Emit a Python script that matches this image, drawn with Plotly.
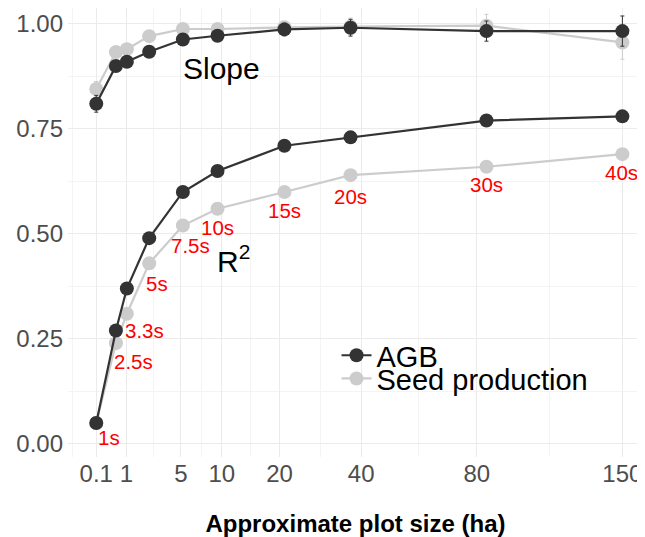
import numpy as np
import plotly.graph_objects as go

# ---------------- data ----------------
plot_size_ha = [0.1, 0.58, 1.02, 2.3, 5.2, 9.4, 21.0, 37.0, 84.0, 150.0]
resolution_labels = ["1s", "2.5s", "3.3s", "5s", "7.5s", "10s", "15s", "20s", "30s", "40s"]

r2_agb = [0.05, 0.27, 0.37, 0.49, 0.60, 0.65, 0.71, 0.73, 0.77, 0.78]
r2_seed = [0.05, 0.24, 0.31, 0.43, 0.52, 0.56, 0.60, 0.64, 0.66, 0.69]

slope_agb = [0.81, 0.90, 0.91, 0.934, 0.963, 0.972, 0.987, 0.991, 0.983, 0.983]
slope_agb_err = [0.02, 0.01, 0.01, 0.01, 0.01, 0.012, 0.015, 0.02, 0.024, 0.036]
slope_seed = [0.845, 0.933, 0.94, 0.971, 0.988, 0.988, 0.992, 0.994, 0.996, 0.956]
slope_seed_err = [0.018, 0.01, 0.01, 0.01, 0.012, 0.012, 0.014, 0.02, 0.027, 0.04]

x_tick_values = [0.1, 1, 5, 10, 20, 40, 80, 150]
x_tick_labels = ["0.1", "1", "5", "10", "20", "40", "80", "150"]
y_tick_values = [0.0, 0.25, 0.5, 0.75, 1.0]
y_tick_labels = ["0.00", "0.25", "0.50", "0.75", "1.00"]

# ---------------- styling / layout ----------------
DARK = "#333333"
LIGHT = "#CCCCCC"
FONT = "Liberation Sans, Arial, sans-serif"
label_dx = [13, 18, 18, 8, 8, 0, 0, 0, 0, -1]
label_dy = [15, 18, 17, 20, 20, 19, 19, 21, 18, 18]

# sqrt-transformed x axis
xs = np.sqrt(plot_size_ha)
tick_pos = np.sqrt(x_tick_values)
minor_x = [-0.234] + list((tick_pos[1:-1] + tick_pos[2:]) / 2)
minor_y = [0.125, 0.375, 0.625, 0.875]

fig = go.Figure()


def add_series(y, color, name, err=None, legend=None, show=False):
    fig.add_trace(go.Scatter(
        x=xs, y=y, mode="lines+markers", name=name,
        line=dict(color=color, width=2.2),
        marker=dict(color=color, size=14),
        error_y=(dict(type="data", array=err, visible=True, color=color,
                      thickness=1, width=2) if err is not None else None),
        showlegend=show, legend=legend, hoverinfo="skip", cliponaxis=False,
    ))


# seed first (drawn underneath), then AGB
add_series(slope_seed, LIGHT, "Seed production", err=slope_seed_err)
add_series(r2_seed, LIGHT, "Seed production", legend="legend2", show=True)
add_series(slope_agb, DARK, "AGB", err=slope_agb_err)
add_series(r2_agb, DARK, "AGB", legend="legend", show=True)

annotations = []
for xv, yv, lab, dx, dy in zip(xs, r2_seed, resolution_labels, label_dx, label_dy):
    annotations.append(dict(
        x=xv, y=yv, text=lab, showarrow=False, xanchor="center", yanchor="middle",
        xshift=dx, yshift=-dy, font=dict(family=FONT, size=20.5, color="red")))

annotations.append(dict(x=np.sqrt(10), y=0.895, text="Slope", showarrow=False,
                        xanchor="center", yanchor="middle",
                        font=dict(family=FONT, size=30, color="black")))
annotations.append(dict(x=3.435, y=0.44, text="R<sup>2</sup>", showarrow=False,
                        xanchor="center", yanchor="middle",
                        font=dict(family=FONT, size=30, color="black")))

legend_common = dict(xanchor="left", yanchor="middle", bgcolor="rgba(0,0,0,0)",
                     borderwidth=0, font=dict(family=FONT, size=29, color="black"),
                     itemwidth=30, tracegroupgap=0)

# the page body has an 8px default margin, so the figure is 8px smaller
fig.update_layout(
    width=637, height=529,
    margin=dict(l=60, r=2, t=0, b=80, autoexpand=False),
    paper_bgcolor="white", plot_bgcolor="white",
    font=dict(family=FONT),
    annotations=annotations,
    legend=dict(x=0.467, y=0.2263, **legend_common),
    legend2=dict(x=0.467, y=0.1746, **legend_common),
    xaxis=dict(
        range=[-0.325, 12.715], automargin=False,
        tickmode="array", tickvals=tick_pos, ticktext=x_tick_labels,
        showgrid=True, gridcolor="#EBEBEB", gridwidth=1,
        minor=dict(tickmode="array", tickvals=minor_x, showgrid=True,
                   gridcolor="#F4F4F4", gridwidth=1, ticks=""),
        zeroline=False, showline=False, ticks="",
        tickfont=dict(family=FONT, size=24, color="#4D4D4D"),
        title=dict(text="<b>Approximate plot size (ha)</b>", standoff=30,
                   font=dict(family=FONT, size=24, color="black")),
    ),
    yaxis=dict(
        range=[-0.031, 1.038], automargin=False,
        tickmode="array", tickvals=y_tick_values, ticktext=y_tick_labels,
        showgrid=True, gridcolor="#EBEBEB", gridwidth=1,
        minor=dict(tickmode="array", tickvals=minor_y, showgrid=True,
                   gridcolor="#F4F4F4", gridwidth=1, ticks=""),
        zeroline=False, showline=False, ticks="",
        ticklabelstandoff=4,
        tickfont=dict(family=FONT, size=24, color="#4D4D4D"),
    ),
)

fig.write_html("out.html")
